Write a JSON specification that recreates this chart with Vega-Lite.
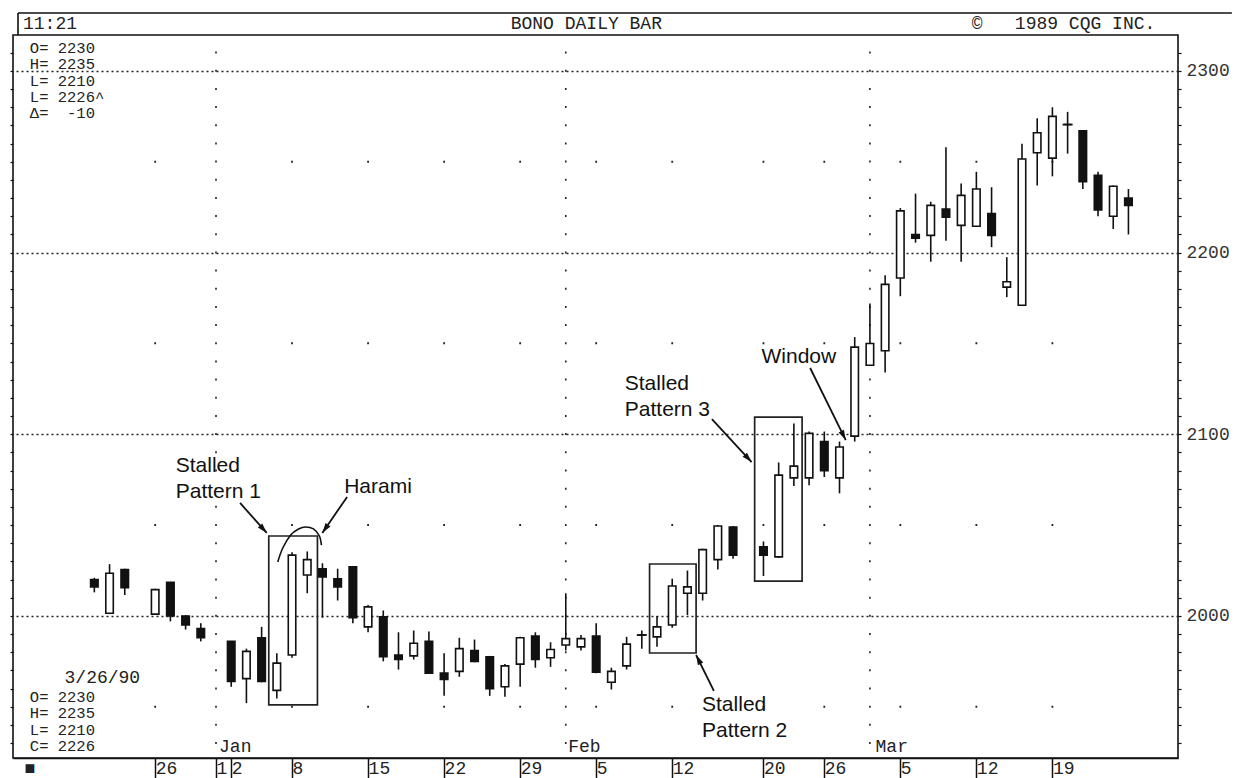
{
  "$schema": "https://vega.github.io/schema/vega-lite/v6.json",
  "width": 1165,
  "height": 723,
  "autosize": {"type": "none"},
  "padding": {"left": 13, "top": 35, "right": 59, "bottom": 20},
  "background": "white",
  "config": {"view": {"stroke": "#111", "strokeWidth": 1.6}},
  "datasets": {
    "bars": [
      {"date": "1989-12-20", "open": 2020, "high": 2021, "low": 2013, "close": 2016},
      {"date": "1989-12-21", "open": 2001.5, "high": 2028.5, "low": 2001, "close": 2023.5},
      {"date": "1989-12-22", "open": 2025.5, "high": 2026, "low": 2011.5, "close": 2015.5},
      {"date": "1989-12-25"},
      {"date": "1989-12-26", "open": 2001, "high": 2015, "low": 2000.5, "close": 2014.5},
      {"date": "1989-12-27", "open": 2018.5, "high": 2018.5, "low": 1997, "close": 2000},
      {"date": "1989-12-28", "open": 2000, "high": 2000.5, "low": 1992.5, "close": 1995},
      {"date": "1989-12-29", "open": 1993, "high": 1996, "low": 1986, "close": 1988},
      {"date": "1990-01-01"},
      {"date": "1990-01-02", "open": 1986, "high": 1986, "low": 1961, "close": 1964},
      {"date": "1990-01-03", "open": 1965.5, "high": 1982, "low": 1952, "close": 1980.5},
      {"date": "1990-01-04", "open": 1988, "high": 1994, "low": 1963.5, "close": 1964},
      {"date": "1990-01-05", "open": 1959, "high": 1979.5, "low": 1954.5, "close": 1974},
      {"date": "1990-01-08", "open": 1978.5, "high": 2035, "low": 1977, "close": 2033.5},
      {"date": "1990-01-09", "open": 2022.5, "high": 2035.5, "low": 2012.5, "close": 2031},
      {"date": "1990-01-10", "open": 2026, "high": 2029, "low": 1999, "close": 2021.5},
      {"date": "1990-01-11", "open": 2020.5, "high": 2026, "low": 2008.5, "close": 2016},
      {"date": "1990-01-12", "open": 2027, "high": 2027, "low": 1996, "close": 1999},
      {"date": "1990-01-15", "open": 1994, "high": 2006, "low": 1991, "close": 2005},
      {"date": "1990-01-16", "open": 1999.5, "high": 2003, "low": 1975, "close": 1977.5},
      {"date": "1990-01-17", "open": 1978.5, "high": 1991, "low": 1970.5, "close": 1976},
      {"date": "1990-01-18", "open": 1978, "high": 1992, "low": 1976, "close": 1985},
      {"date": "1990-01-19", "open": 1986, "high": 1991.5, "low": 1968, "close": 1968.5},
      {"date": "1990-01-22", "open": 1968.5, "high": 1979.5, "low": 1956, "close": 1965},
      {"date": "1990-01-23", "open": 1969.5, "high": 1988, "low": 1966.5, "close": 1982},
      {"date": "1990-01-24", "open": 1981, "high": 1987, "low": 1974.5, "close": 1975},
      {"date": "1990-01-25", "open": 1977.5, "high": 1978, "low": 1956, "close": 1960},
      {"date": "1990-01-26", "open": 1961, "high": 1973.5, "low": 1955.5, "close": 1972.5},
      {"date": "1990-01-29", "open": 1973.5, "high": 1988.5, "low": 1961, "close": 1988},
      {"date": "1990-01-30", "open": 1989, "high": 1991, "low": 1971.5, "close": 1976},
      {"date": "1990-01-31", "open": 1977, "high": 1985.5, "low": 1972, "close": 1981.5},
      {"date": "1990-02-01", "open": 1984, "high": 2012.5, "low": 1981, "close": 1987.5},
      {"date": "1990-02-02", "open": 1983, "high": 1989.5, "low": 1981, "close": 1987.5},
      {"date": "1990-02-05", "open": 1989, "high": 1996, "low": 1968.5, "close": 1969},
      {"date": "1990-02-06", "open": 1963.5, "high": 1971.5, "low": 1959.5, "close": 1969.5},
      {"date": "1990-02-07", "open": 1972.5, "high": 1988.5, "low": 1970.5, "close": 1984.5},
      {"date": "1990-02-08", "open": 1989.5, "high": 1992, "low": 1982, "close": 1989.5},
      {"date": "1990-02-09", "open": 1988.5, "high": 2000, "low": 1983, "close": 1994},
      {"date": "1990-02-12", "open": 1995, "high": 2020.5, "low": 1993.5, "close": 2016.5},
      {"date": "1990-02-13", "open": 2012.5, "high": 2025, "low": 2000.5, "close": 2016},
      {"date": "1990-02-14", "open": 2012.5, "high": 2037, "low": 2008.5, "close": 2036.5},
      {"date": "1990-02-15", "open": 2031, "high": 2050, "low": 2025.5, "close": 2049.5},
      {"date": "1990-02-16", "open": 2049, "high": 2049.5, "low": 2031.5, "close": 2033.5},
      {"date": "1990-02-19"},
      {"date": "1990-02-20", "open": 2038, "high": 2041, "low": 2022, "close": 2033.5},
      {"date": "1990-02-21", "open": 2032.5, "high": 2084.5, "low": 2032, "close": 2077.5},
      {"date": "1990-02-22", "open": 2076, "high": 2106, "low": 2071.5, "close": 2082.5},
      {"date": "1990-02-23", "open": 2076, "high": 2101.5, "low": 2072, "close": 2100.5},
      {"date": "1990-02-26", "open": 2096, "high": 2101.5, "low": 2076.5, "close": 2080},
      {"date": "1990-02-27", "open": 2076, "high": 2096, "low": 2067.5, "close": 2093},
      {"date": "1990-02-28", "open": 2099, "high": 2153.5, "low": 2096, "close": 2148},
      {"date": "1990-03-01", "open": 2138, "high": 2172, "low": 2138, "close": 2150},
      {"date": "1990-03-02", "open": 2146, "high": 2187.5, "low": 2134, "close": 2182.5},
      {"date": "1990-03-05", "open": 2186, "high": 2224.5, "low": 2176, "close": 2223},
      {"date": "1990-03-06", "open": 2210, "high": 2232.5, "low": 2205.5, "close": 2208},
      {"date": "1990-03-07", "open": 2209.5, "high": 2228, "low": 2195, "close": 2226},
      {"date": "1990-03-08", "open": 2224, "high": 2258, "low": 2206.5, "close": 2219.5},
      {"date": "1990-03-09", "open": 2215, "high": 2238, "low": 2195, "close": 2231.5},
      {"date": "1990-03-12", "open": 2214.5, "high": 2244.5, "low": 2214.5, "close": 2235},
      {"date": "1990-03-13", "open": 2221.5, "high": 2236, "low": 2203, "close": 2209.5},
      {"date": "1990-03-14", "open": 2181, "high": 2197.5, "low": 2175.5, "close": 2184},
      {"date": "1990-03-15", "open": 2171, "high": 2260, "low": 2171, "close": 2251.5},
      {"date": "1990-03-16", "open": 2255, "high": 2274, "low": 2237, "close": 2266},
      {"date": "1990-03-19", "open": 2252, "high": 2280, "low": 2242, "close": 2275},
      {"date": "1990-03-20", "open": 2270.5, "high": 2277.5, "low": 2254.5, "close": 2270.5},
      {"date": "1990-03-21", "open": 2267, "high": 2267, "low": 2235, "close": 2239},
      {"date": "1990-03-22", "open": 2242.5, "high": 2244.5, "low": 2220, "close": 2223.5},
      {"date": "1990-03-23", "open": 2220, "high": 2237, "low": 2213, "close": 2236.5},
      {"date": "1990-03-26", "open": 2230, "high": 2235, "low": 2210, "close": 2226}
    ],
    "boxes": [
      {"s1": 12.47, "s2": 15.67, "v1": 1951.0, "v2": 2044.0},
      {"s1": 37.51, "s2": 40.57, "v1": 1979.6, "v2": 2028.6},
      {"s1": 44.42, "s2": 47.54, "v1": 2019.2, "v2": 2109.5}
    ],
    "arrows": [
      {"name": "p1", "s1": 10.58, "v1": 2062.2, "s2": 12.34, "v2": 2045.7},
      {"name": "harami", "s1": 17.62, "v1": 2065.5, "s2": 15.99, "v2": 2045.7},
      {"name": "p2", "s1": 41.74, "v1": 1958.7, "s2": 40.57, "v2": 1978.5},
      {"name": "p3", "s1": 41.61, "v1": 2108.4, "s2": 44.22, "v2": 2084.7},
      {"name": "window", "s1": 48.07, "v1": 2136.5, "s2": 50.41, "v2": 2096.8}
    ],
    "arc": [
      {"s": 13.06, "v": 2029.7},
      {"s": 13.39, "v": 2037.4},
      {"s": 13.91, "v": 2044.6},
      {"s": 14.43, "v": 2047.9},
      {"s": 14.89, "v": 2049.0},
      {"s": 15.41, "v": 2047.9},
      {"s": 15.80, "v": 2044.0},
      {"s": 15.93, "v": 2039.0}
    ],
    "notes": [
      {"s": 6.35, "v": 2082.5, "t": ["Stalled", "Pattern 1"]},
      {"s": 17.43, "v": 2070.9, "t": "Harami"},
      {"s": 40.96, "v": 1951.0, "t": ["Stalled", "Pattern 2"]},
      {"s": 35.88, "v": 2127.7, "t": ["Stalled", "Pattern 3"]},
      {"s": 44.87, "v": 2142.5, "t": "Window"}
    ],
    "mono": [
      {"s": -3.69, "v": 2325.9, "t": "11:21"},
      {"s": 28.38, "v": 2325.9, "t": "BONO DAILY BAR"},
      {"s": 58.69, "v": 2325.9, "t": "©\u00a0\u00a0\u00a01989 CQG INC."},
      {"s": -0.96, "v": 1965.8, "t": "3/26/90"},
      {"s": 9.2, "v": 1927.9, "t": "Jan"},
      {"s": 32.16, "v": 1927.9, "t": "Feb"},
      {"s": 52.37, "v": 1927.9, "t": "Mar"},
      {"s": -3.6, "v": 1915.7, "t": "■"}
    ],
    "blocks": [
      {"s": -3.24, "v": 2312.6, "t": ["O= 2230", "H= 2235", "L= 2210", "L= 2226^", "Δ=\u00a0\u00a0-10"]},
      {"s": -3.24, "v": 1955.4, "t": ["O= 2230", "H= 2235", "L= 2210", "C= 2226"]}
    ],
    "frame": [
      {"s1": -4.02, "s2": 75.8, "v1": 2331.9, "v2": 2331.9},
      {"s1": -4.02, "s2": -4.02, "v1": 2319.8, "v2": 2331.9}
    ]
  },
  "data": {"name": "bars"},
  "transform": [
    {"window": [{"op": "row_number", "as": "session"}], "sort": [{"field": "date"}]}
  ],
  "layer": [
    {
      "transform": [{"filter": {"field": "date", "oneOf": ["1990-01-01", "1990-02-01", "1990-03-01"]}}],
      "mark": {"type": "rule", "stroke": "#222", "strokeWidth": 1.6, "strokeDash": [2, 16.17]},
      "encoding": {
        "x": {"field": "session", "type": "quantitative", "scale": {"domain": [-4.02, 71.93], "nice": false, "zero": false}, "axis": null},
        "y": {"datum": 1929.5, "type": "quantitative", "scale": {"domain": [1921.8, 2319.8], "nice": false, "zero": false},
          "axis": {"orient": "left", "values": [1930,1940,1950,1960,1970,1980,1990,2000,2010,2020,2030,2040,2050,2060,2070,2080,2090,2100,2110,2120,2130,2140,2150,2160,2170,2180,2190,2200,2210,2220,2230,2240,2250,2260,2270,2280,2290,2300,2310],
            "labels": false, "title": null, "grid": false, "tickSize": 3, "tickColor": "#111", "tickWidth": 1.2, "domain": false}},
        "y2": {"datum": 2319.5}
      }
    },
    {
      "transform": [{"filter": {"field": "date", "oneOf": ["1989-12-26", "1990-01-08", "1990-01-15", "1990-01-22", "1990-01-29", "1990-02-05", "1990-02-12", "1990-02-20", "1990-02-26", "1990-03-05", "1990-03-12", "1990-03-19"]}}],
      "mark": {"type": "rule", "stroke": "#222", "strokeWidth": 1.8, "strokeDash": [2, 179.67]},
      "encoding": {
        "x": {"field": "session", "type": "quantitative", "axis": null},
        "y": {"datum": 1949.5, "type": "quantitative", "axis": null},
        "y2": {"datum": 2251}
      }
    },
    {
      "transform": [{"filter": "isValid(datum.open)"}],
      "mark": {"type": "rule", "stroke": "#111", "strokeWidth": 1.6},
      "encoding": {
        "x": {"field": "session", "type": "quantitative", "scale": {"domain": [-4.02, 71.93], "nice": false, "zero": false},
          "axis": {"values": [5, 9, 10, 14, 19, 24, 29, 34, 39, 45, 49, 54, 59, 64],
            "labelExpr": "datum.value==5?'26':datum.value==9?'1':datum.value==10?'2':datum.value==14?'8':datum.value==19?'15':datum.value==24?'22':datum.value==29?'29':datum.value==34?'5':datum.value==39?'12':datum.value==45?'20':datum.value==49?'26':datum.value==54?'5':datum.value==59?'12':datum.value==64?'19':''",
            "title": null, "grid": false, "tickSize": 20, "tickWidth": 1.5, "tickColor": "#111", "domainColor": "#111", "domainWidth": 1.6,
            "labelAlign": "left", "labelBaseline": "middle", "labelPadding": -10, "labelDx": 3, "labelFont": "Liberation Mono", "labelFontSize": 18, "labelColor": "#222", "labelOverlap": false, "labelFlush": false}},
        "y": {"field": "low", "type": "quantitative", "scale": {"domain": [1921.8, 2319.8], "nice": false, "zero": false},
          "axis": {"orient": "right", "values": [1930,1940,1950,1960,1970,1980,1990,2000,2010,2020,2030,2040,2050,2060,2070,2080,2090,2100,2110,2120,2130,2140,2150,2160,2170,2180,2190,2200,2210,2220,2230,2240,2250,2260,2270,2280,2290,2300,2310],
            "format": "d", "labelExpr": "datum.value % 100 === 0 ? datum.label : ''", "title": null,
            "grid": true, "gridColor": "#222", "gridDash": [2, 3], "gridWidth": 1.4,
            "gridOpacity": {"condition": {"test": "datum.value % 100 === 0", "value": 1}, "value": 0},
            "tickSize": 3, "tickColor": "#111", "tickWidth": 1.2, "domain": false, "labelPadding": 5,
            "labelFont": "Liberation Mono", "labelFontSize": 18, "labelColor": "#333", "labelOverlap": false}},
        "y2": {"field": "high"}
      }
    },
    {
      "transform": [{"filter": "isValid(datum.open)"}],
      "mark": {"type": "bar", "width": 7.5, "stroke": "#111", "strokeWidth": 1.6},
      "encoding": {
        "x": {"field": "session", "type": "quantitative", "axis": null},
        "y": {"field": "open", "type": "quantitative", "axis": null},
        "y2": {"field": "close"},
        "fill": {"condition": {"test": "datum.close < datum.open", "value": "#111"}, "value": "#ffffff"}
      }
    },
    {
      "transform": [{"filter": "isValid(datum.open) && datum.open == datum.close"}],
      "mark": {"type": "tick", "orient": "horizontal", "size": 10, "thickness": 1.8, "color": "#111", "opacity": 1},
      "encoding": {
        "x": {"field": "session", "type": "quantitative", "axis": null},
        "y": {"field": "close", "type": "quantitative", "axis": null}
      }
    },
    {
      "data": {"name": "boxes"},
      "mark": {"type": "rect", "fill": null, "fillOpacity": 0, "stroke": "#222", "strokeWidth": 1.7},
      "encoding": {
        "x": {"field": "s1", "type": "quantitative", "axis": null},
        "x2": {"field": "s2"},
        "y": {"field": "v1", "type": "quantitative", "axis": null},
        "y2": {"field": "v2"}
      }
    },
    {
      "data": {"name": "arrows"},
      "mark": {"type": "rule", "stroke": "#111", "strokeWidth": 1.8},
      "encoding": {
        "x": {"field": "s1", "type": "quantitative", "axis": null},
        "x2": {"field": "s2"},
        "y": {"field": "v1", "type": "quantitative", "axis": null},
        "y2": {"field": "v2"}
      }
    },
    {
      "data": {"name": "arrows"},
      "transform": [{"filter": "datum.name == 'p1'"}],
      "mark": {"type": "point", "shape": "M0,0L-0.6,2L0.6,2Z", "size": 100, "filled": true, "color": "#111", "opacity": 1, "angle": 138},
      "encoding": {"x": {"field": "s2", "type": "quantitative", "axis": null}, "y": {"field": "v2", "type": "quantitative", "axis": null}}
    },
    {
      "data": {"name": "arrows"},
      "transform": [{"filter": "datum.name == 'harami'"}],
      "mark": {"type": "point", "shape": "M0,0L-0.6,2L0.6,2Z", "size": 100, "filled": true, "color": "#111", "opacity": 1, "angle": 214.8},
      "encoding": {"x": {"field": "s2", "type": "quantitative", "axis": null}, "y": {"field": "v2", "type": "quantitative", "axis": null}}
    },
    {
      "data": {"name": "arrows"},
      "transform": [{"filter": "datum.name == 'p2'"}],
      "mark": {"type": "point", "shape": "M0,0L-0.6,2L0.6,2Z", "size": 100, "filled": true, "color": "#111", "opacity": 1, "angle": 333.4},
      "encoding": {"x": {"field": "s2", "type": "quantitative", "axis": null}, "y": {"field": "v2", "type": "quantitative", "axis": null}}
    },
    {
      "data": {"name": "arrows"},
      "transform": [{"filter": "datum.name == 'p3'"}],
      "mark": {"type": "point", "shape": "M0,0L-0.6,2L0.6,2Z", "size": 100, "filled": true, "color": "#111", "opacity": 1, "angle": 137.1},
      "encoding": {"x": {"field": "s2", "type": "quantitative", "axis": null}, "y": {"field": "v2", "type": "quantitative", "axis": null}}
    },
    {
      "data": {"name": "arrows"},
      "transform": [{"filter": "datum.name == 'window'"}],
      "mark": {"type": "point", "shape": "M0,0L-0.6,2L0.6,2Z", "size": 100, "filled": true, "color": "#111", "opacity": 1, "angle": 153.4},
      "encoding": {"x": {"field": "s2", "type": "quantitative", "axis": null}, "y": {"field": "v2", "type": "quantitative", "axis": null}}
    },
    {
      "data": {"name": "arc"},
      "mark": {"type": "line", "stroke": "#111", "strokeWidth": 1.6, "interpolate": "cardinal"},
      "encoding": {
        "x": {"field": "s", "type": "quantitative", "axis": null},
        "y": {"field": "v", "type": "quantitative", "axis": null}
      }
    },
    {
      "data": {"name": "notes"},
      "mark": {"type": "text", "align": "left", "baseline": "middle", "font": "Liberation Sans", "fontSize": 21, "lineHeight": 26, "color": "#111"},
      "encoding": {
        "x": {"field": "s", "type": "quantitative", "axis": null},
        "y": {"field": "v", "type": "quantitative", "axis": null},
        "text": {"field": "t", "type": "nominal"}
      }
    },
    {
      "data": {"name": "mono"},
      "mark": {"type": "text", "align": "left", "baseline": "middle", "font": "Liberation Mono", "fontSize": 18, "color": "#222"},
      "encoding": {
        "x": {"field": "s", "type": "quantitative", "axis": null},
        "y": {"field": "v", "type": "quantitative", "axis": null},
        "text": {"field": "t", "type": "nominal"}
      }
    },
    {
      "data": {"name": "blocks"},
      "mark": {"type": "text", "align": "left", "baseline": "middle", "font": "Liberation Mono", "fontSize": 15.5, "lineHeight": 16.3, "color": "#222"},
      "encoding": {
        "x": {"field": "s", "type": "quantitative", "axis": null},
        "y": {"field": "v", "type": "quantitative", "axis": null},
        "text": {"field": "t", "type": "nominal"}
      }
    },
    {
      "data": {"name": "frame"},
      "mark": {"type": "rule", "stroke": "#111", "strokeWidth": 1.6},
      "encoding": {
        "x": {"field": "s1", "type": "quantitative", "axis": null},
        "x2": {"field": "s2"},
        "y": {"field": "v1", "type": "quantitative", "axis": null},
        "y2": {"field": "v2"}
      }
    }
  ],
  "resolve": {"axis": {"x": "independent", "y": "independent"}}
}
